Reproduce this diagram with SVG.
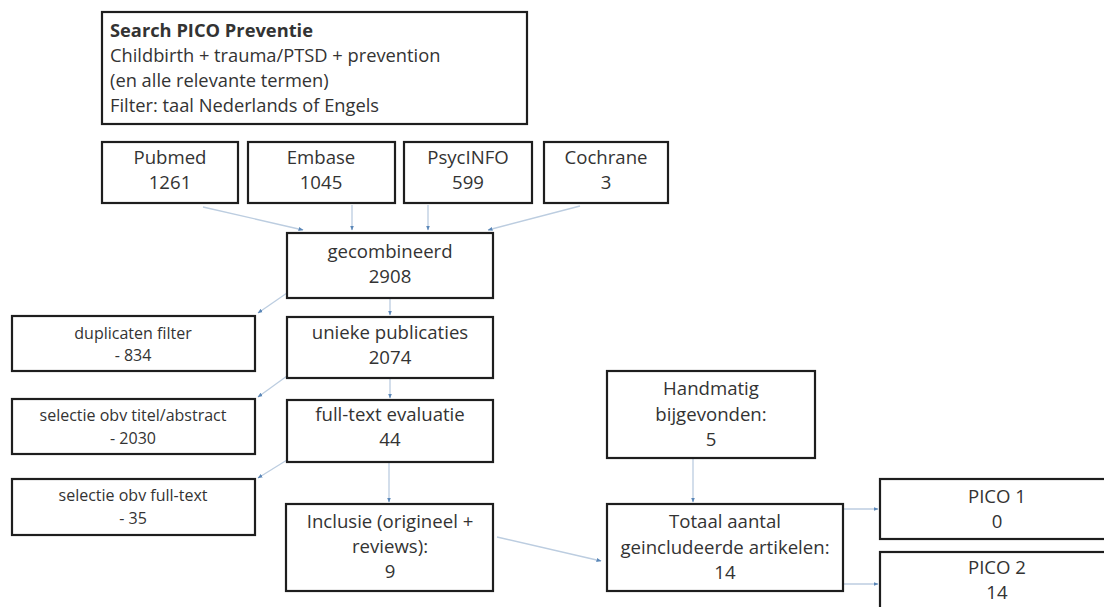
<svg xmlns="http://www.w3.org/2000/svg" width="1104" height="607" viewBox="0 0 1104 607">
<defs>
<marker id="ah" viewBox="0 0 10 10" refX="9" refY="5" markerWidth="5" markerHeight="5" orient="auto" markerUnits="userSpaceOnUse">
<path d="M0,1 L10,5 L0,9 z" fill="#5b87b8"/>
</marker>
<style>
.box{fill:#fff;stroke:#1e1e1e;stroke-width:2.2}
.t{font-family:"Open Sans","Liberation Sans",sans-serif;font-size:18.6px;fill:#333;text-anchor:middle}
.s{font-family:"Open Sans","Liberation Sans",sans-serif;font-size:16px;fill:#333;text-anchor:middle}
.l{font-family:"Open Sans","Liberation Sans",sans-serif;font-size:18.3px;fill:#333}
.c{fill:none;stroke:#bccde0;stroke-width:1.3;marker-end:url(#ah)}
</style>
</defs>
<rect width="1104" height="607" fill="#fff"/>
<g id="connectors">
<line class="c" x1="203" y1="207" x2="303" y2="230"/>
<line class="c" x1="352" y1="205" x2="352" y2="230"/>
<line class="c" x1="428" y1="205" x2="428" y2="230"/>
<line class="c" x1="580" y1="206" x2="488" y2="230"/>
<line class="c" x1="390" y1="298" x2="390" y2="315"/>
<line class="c" x1="390" y1="379" x2="390" y2="398"/>
<line class="c" x1="389" y1="462" x2="389" y2="502"/>
<line class="c" x1="287" y1="293" x2="258" y2="313"/>
<line class="c" x1="287" y1="376" x2="258" y2="397"/>
<line class="c" x1="287" y1="460" x2="258" y2="478"/>
<line class="c" x1="497" y1="537" x2="601" y2="561"/>
<line class="c" x1="693" y1="458" x2="693" y2="502"/>
<line class="c" x1="843" y1="509" x2="878" y2="509"/>
<line class="c" x1="843" y1="584" x2="878" y2="584"/>
</g>
<g id="search">
<rect class="box" x="102" y="12" width="425" height="112"/>
<text class="l" x="110" y="37" font-weight="bold">Search PICO Preventie</text>
<text class="l" x="110" y="62">Childbirth + trauma/PTSD + prevention</text>
<text class="l" x="110" y="87">(en alle relevante termen)</text>
<text class="l" x="110" y="112">Filter: taal Nederlands of Engels</text>
</g>
<g id="pubmed">
<rect class="box" x="102" y="142" width="136" height="61"/>
<text class="t" x="170" y="164">Pubmed</text>
<text class="t" x="170" y="189">1261</text>
</g>
<g id="embase">
<rect class="box" x="248" y="142" width="147" height="61"/>
<text class="t" x="321" y="164">Embase</text>
<text class="t" x="321" y="189">1045</text>
</g>
<g id="psycinfo">
<rect class="box" x="404" y="142" width="128" height="61"/>
<text class="t" x="468" y="164">PsycINFO</text>
<text class="t" x="468" y="189">599</text>
</g>
<g id="cochrane">
<rect class="box" x="544" y="142" width="124" height="61"/>
<text class="t" x="606" y="164">Cochrane</text>
<text class="t" x="606" y="189">3</text>
</g>
<g id="gecombineerd">
<rect class="box" x="287" y="233" width="206" height="65"/>
<text class="t" x="390" y="258">gecombineerd</text>
<text class="t" x="390" y="283">2908</text>
</g>
<g id="duplicaten">
<rect class="box" x="12" y="316" width="243" height="55"/>
<text class="s" x="133" y="339">duplicaten filter</text>
<text class="s" x="133" y="361">- 834</text>
</g>
<g id="unieke">
<rect class="box" x="287" y="317" width="206" height="61"/>
<text class="t" x="390" y="339">unieke publicaties</text>
<text class="t" x="390" y="364">2074</text>
</g>
<g id="selectie-titel">
<rect class="box" x="12" y="399" width="243" height="55"/>
<text class="s" x="133" y="421">selectie obv titel/abstract</text>
<text class="s" x="133" y="444">- 2030</text>
</g>
<g id="fulltext">
<rect class="box" x="287" y="400" width="206" height="62"/>
<text class="t" x="390" y="421">full-text evaluatie</text>
<text class="t" x="390" y="446">44</text>
</g>
<g id="selectie-fulltext">
<rect class="box" x="12" y="479" width="243" height="56"/>
<text class="s" x="133" y="501">selectie obv full-text</text>
<text class="s" x="133" y="524">- 35</text>
</g>
<g id="inclusie">
<rect class="box" x="286" y="504" width="207" height="87"/>
<text class="t" x="390" y="528">Inclusie (origineel +</text>
<text class="t" x="390" y="553">reviews):</text>
<text class="t" x="390" y="578">9</text>
</g>
<g id="handmatig">
<rect class="box" x="607" y="371" width="208" height="87"/>
<text class="t" x="711" y="395">Handmatig</text>
<text class="t" x="711" y="421">bijgevonden:</text>
<text class="t" x="711" y="446">5</text>
</g>
<g id="totaal">
<rect class="box" x="607" y="504" width="236" height="87"/>
<text class="t" x="725" y="528">Totaal aantal</text>
<text class="t" x="725" y="554">geincludeerde artikelen:</text>
<text class="t" x="725" y="579">14</text>
</g>
<g id="pico1">
<rect class="box" x="880" y="479" width="236" height="60"/>
<text class="t" x="997" y="503">PICO 1</text>
<text class="t" x="997" y="528">0</text>
</g>
<g id="pico2">
<rect class="box" x="880" y="552" width="236" height="70"/>
<text class="t" x="997" y="574">PICO 2</text>
<text class="t" x="997" y="599">14</text>
</g>
</svg>
